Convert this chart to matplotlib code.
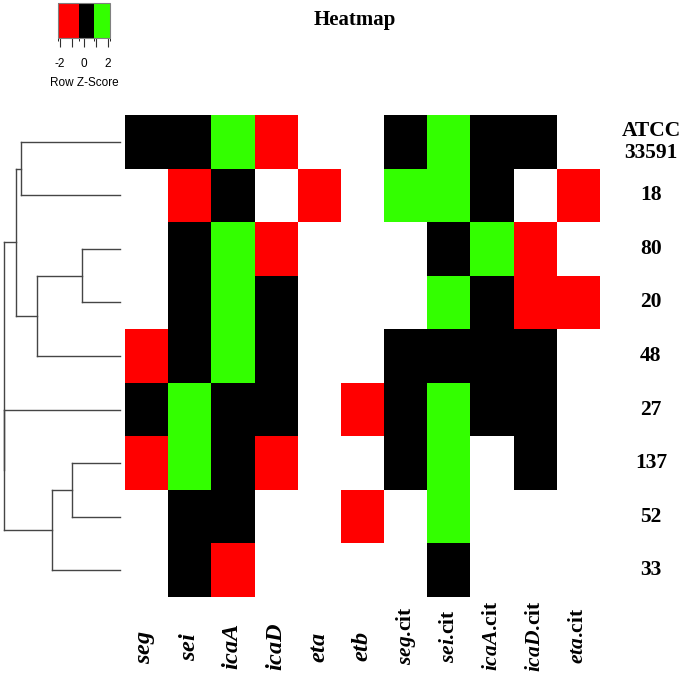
import numpy as np
import matplotlib
matplotlib.use('Agg')
import matplotlib.pyplot as plt
from matplotlib.colors import ListedColormap, BoundaryNorm
from matplotlib.cm import ScalarMappable
from matplotlib.transforms import blended_transform_factory

plt.rcParams['mathtext.fontset'] = 'custom'
plt.rcParams['mathtext.it'] = 'Liberation Serif:italic:bold'
plt.rcParams['mathtext.rm'] = 'Liberation Serif:bold'

# Datos del heatmap (fila = cepa, columna = gen), NaN = celda vacia
n = np.nan
strains = ['ATCC\n33591', '18', '80', '20', '48', '27', '137', '52', '33']
genes = [r'$seg$', r'$sei$', r'$icaA$', r'$icaD$', r'$eta$', r'$etb$',
         r'$seg$.cit', r'$sei$.cit', r'$icaA$.cit', r'$icaD$.cit', r'$eta$.cit']
zscore = [
    [0, 0, 2, -2, n, n, 0, 2, 0, 0, n],
    [n, -2, 0, n, -2, n, 2, 2, 0, n, -2],
    [n, 0, 2, -2, n, n, n, 0, 2, -2, n],
    [n, 0, 2, 0, n, n, n, 2, 0, -2, -2],
    [-2, 0, 2, 0, n, n, 0, 0, 0, 0, n],
    [0, 2, 0, 0, n, -2, 0, 2, 0, 0, n],
    [-2, 2, 0, -2, n, n, 0, 2, n, 0, n],
    [n, 0, 0, n, n, -2, n, 2, n, n, n],
    [n, 0, -2, n, n, n, n, 0, n, n, n],
]
# cortes de color de la leyenda
breaks = [-2.17, -0.42, 0.86, 2.17]

# Dendrograma de filas: (hijo izq, hijo der, altura); hojas 0-8
merges = [
    (0, 1, 0.853),
    (2, 3, 0.33),
    (10, 4, 0.718),
    (9, 11, 0.897),
    (6, 7, 0.416),
    (13, 8, 0.589),
    (5, 14, 1.0),
    (12, 15, 1.0),
]

W, H = 685, 677
fig = plt.figure(figsize=(W / 100, H / 100), dpi=100)

cmap = ListedColormap(['#FF0000', '#000000', '#33FF00'])
norm = BoundaryNorm(breaks, cmap.N)

# Heatmap
ax = fig.add_axes([125 / W, 1 - 597 / H, 475 / W, 482 / H])
data = np.ma.masked_invalid(np.array(zscore, dtype=float))
ax.pcolormesh(data, cmap=cmap, norm=norm)
ax.set_xlim(0, len(genes))
ax.set_ylim(len(strains), 0)
ax.axis('off')

tr = blended_transform_factory(ax.transData, fig.transFigure)
for j, g in enumerate(genes):
    if '.cit' in g:
        yc, fs = 636, 15.5
    else:
        yc, fs = 647, 17.5
    ax.text(j + 0.5, 1 - yc / H, g, transform=tr, rotation=90, ha='center', va='center',
            fontsize=fs, family='Liberation Serif', fontweight='bold')

tr2 = blended_transform_factory(fig.transFigure, ax.transData)
for i, s in enumerate(strains):
    ax.text(651 / W, i + 0.5, s, transform=tr2, ha='center', va='center',
            fontsize=15.5, family='Liberation Serif', fontweight='bold', linespacing=1.15)

# Dendrograma
axd = fig.add_axes([4 / W, 1 - 597 / H, 116 / W, 482 / H])
ypos = {i: i + 0.5 for i in range(len(strains))}
hgt = {i: 0.0 for i in range(len(strains))}
node = len(strains)
for a, b, h in merges:
    for c in (a, b):
        axd.plot([hgt[c], h], [ypos[c], ypos[c]], color='#454545', lw=1, clip_on=False)
    axd.plot([h, h], [ypos[a], ypos[b]], color='#454545', lw=1, clip_on=False)
    ypos[node] = (ypos[a] + ypos[b]) / 2
    hgt[node] = h
    node += 1
axd.set_xlim(1.0, 0.0)
axd.set_ylim(len(strains), 0)
axd.axis('off')

# Leyenda de color
cax = fig.add_axes([58 / W, 1 - 38 / H, 52 / W, 35 / H])
cb = fig.colorbar(ScalarMappable(norm=norm, cmap=cmap), cax=cax, orientation='horizontal',
                  spacing='proportional')
cb.set_ticks([-2, -1, 0, 1, 2])
cb.set_ticklabels(['-2', '', '0', '', '2'])
cb.outline.set_edgecolor('#808080')
cb.outline.set_linewidth(0.8)
cax.tick_params(axis='x', length=6.5, width=0.8, color='#303030', labelsize=8.5, pad=8)
for t in cax.get_xticklabels():
    t.set_family('Liberation Sans')
cax.set_xlabel('Row Z-Score', fontsize=8.5, family='Liberation Sans', labelpad=5)

fig.text(355 / W, 1 - 20 / H, 'Heatmap', ha='center', va='center', fontsize=15,
         family='Liberation Serif', fontweight='bold')

fig.savefig('out.png', dpi=100)
